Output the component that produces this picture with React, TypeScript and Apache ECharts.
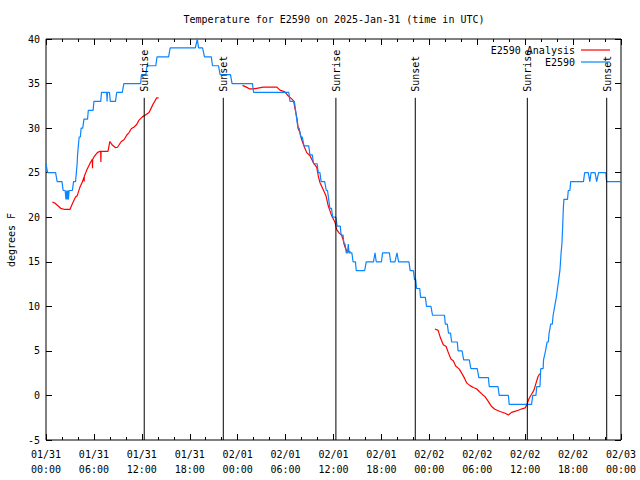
import React, { useEffect, useRef } from "react";
import * as echarts from "echarts";

// hours since 2025-01-31 00:00 UTC
const xTickHours = [0, 6, 12, 18, 24, 30, 36, 42, 48, 54, 60, 66, 72];
const yTicks = [-5, 0, 5, 10, 15, 20, 25, 30, 35, 40];

const blueObs: [number, number][] = [
  [0.0, 26], [0.2, 25], [1.2, 25], [1.4, 24], [2.0, 24], [2.15, 23], [2.4, 23], [2.5, 22], [2.6, 23], [2.65, 22],
  [2.75, 23], [2.8, 22], [2.9, 23], [3.3, 23], [3.45, 24], [3.7, 24], [3.8, 25], [3.9, 26], [3.95, 27], [4.05, 28],
  [4.15, 29], [4.3, 29], [4.4, 30], [4.6, 30], [4.75, 31], [5.2, 31], [5.3, 32], [5.9, 32], [6.0, 33], [6.85, 33],
  [6.95, 34], [7.6, 34], [7.65, 33], [7.7, 34], [7.95, 34], [8.05, 33], [8.7, 33], [8.85, 34], [9.55, 34], [9.75, 35],
  [11.85, 35], [11.95, 36], [12.5, 36], [12.65, 37], [13.75, 37], [13.9, 38], [15.35, 38], [15.55, 39], [18.7, 39],
  [18.95, 40], [19.1, 39], [19.6, 39], [19.85, 38], [20.7, 38], [20.85, 37], [21.6, 37], [21.8, 36], [23.1, 36],
  [23.3, 35], [25.85, 35], [26.0, 34], [30.4, 34], [30.55, 33], [31.1, 33], [31.25, 32], [31.4, 31], [31.55, 30],
  [31.7, 30], [31.9, 29], [32.1, 29], [32.3, 28], [32.9, 28], [33.05, 27], [33.35, 27], [33.5, 26], [33.95, 26],
  [34.1, 25], [34.3, 25], [34.45, 24], [34.9, 24], [35.1, 23], [35.25, 23], [35.4, 22], [35.55, 21], [35.75, 21],
  [35.9, 20], [36.3, 20], [36.45, 19], [36.85, 19], [36.95, 18], [37.2, 18], [37.3, 17], [37.45, 17], [37.6, 16],
  [37.75, 16], [37.85, 17], [37.95, 16], [38.3, 16], [38.45, 15], [38.75, 15], [38.85, 14], [39.9, 14], [40.1, 15],
  [41.0, 15], [41.2, 16], [41.35, 15], [42.0, 15], [42.15, 16], [43.0, 16], [43.15, 15], [43.7, 15], [43.95, 16],
  [44.15, 15], [45.45, 15], [45.6, 14], [46.0, 14], [46.15, 13], [46.3, 13], [46.4, 12], [46.8, 12], [46.9, 11],
  [47.5, 11], [47.65, 10], [48.2, 10], [48.4, 9], [49.9, 9], [50.0, 8], [50.25, 8], [50.4, 7], [50.65, 7], [50.8, 6],
  [51.5, 6], [51.6, 5], [52.1, 5], [52.3, 4], [53.0, 4], [53.2, 3], [54.0, 3], [54.2, 2], [55.4, 2], [55.5, 1],
  [56.6, 1], [56.75, 0], [57.9, 0], [58.0, -1], [60.8, -1], [60.95, 0], [61.35, 0], [61.45, 1], [61.85, 1], [61.95, 3],
  [62.25, 3], [62.3, 4], [62.55, 5], [62.75, 6], [62.9, 6], [63.0, 7], [63.2, 8], [63.4, 8], [63.5, 9], [63.7, 10],
  [63.9, 11], [64.05, 12], [64.2, 13], [64.35, 14], [64.5, 16], [64.6, 17], [64.7, 19], [64.78, 21], [64.85, 22],
  [65.3, 22], [65.4, 23], [65.6, 23], [65.7, 24], [67.3, 24], [67.45, 25], [67.9, 25], [68.1, 24], [68.25, 25],
  [68.75, 25], [68.95, 24], [69.2, 25], [70.1, 25], [70.2, 24], [72.0, 24],
];

const redPart1: [number, number][] = [
  [0.8, 21.7], [1.1, 21.6], [1.84, 21.0], [2.35, 20.87], [3.0, 20.87], [3.3, 21.5], [3.7, 22.26], [3.9, 22.4],
  [4.26, 23.4], [4.55, 23.95], [4.76, 24.5], [4.78, 24.0], [4.8, 24.6], [5.09, 25.26], [5.38, 25.8], [5.6, 26.2],
  [5.8, 26.5], [5.82, 25.5], [5.85, 26.5], [6.0, 26.76], [6.43, 27.25], [6.76, 27.4], [6.85, 27.4], [6.87, 26.2],
  [6.9, 27.4], [7.76, 27.4], [8.0, 28.5], [8.3, 28.1], [8.72, 27.8], [8.95, 27.85], [9.43, 28.5], [9.77, 28.7],
  [10.1, 29.2], [10.4, 29.5], [10.7, 29.95], [11.0, 30.1], [11.35, 30.4], [11.65, 30.9], [12.06, 31.26],
  [12.5, 31.5], [12.9, 31.75], [13.2, 32.3], [13.45, 32.76], [13.65, 33.06], [13.86, 33.4], [14.1, 33.4],
];

const redPart2: [number, number][] = [
  [24.6, 34.8], [25.1, 34.6], [25.5, 34.4], [25.96, 34.4], [27.2, 34.6], [28.9, 34.6], [29.3, 34.26], [29.9, 34.07],
  [30.35, 33.6], [30.8, 33.25], [31.0, 33.06], [31.2, 32.1], [31.4, 31.2], [31.6, 29.9], [31.8, 29.5], [32.0, 28.75],
  [32.3, 28.0], [32.65, 27.25], [33.06, 26.9], [33.5, 26.1], [33.9, 25.6], [34.1, 24.6], [34.3, 23.9], [34.7, 23.1],
  [35.06, 22.4], [35.35, 21.25], [35.8, 20.1], [36.2, 19.4], [36.4, 18.6], [36.7, 18.25], [37.0, 18.0],
  [37.2, 17.5], [37.4, 16.75], [37.65, 16.2], [38.15, 16.1],
];

const redPart3: [number, number][] = [
  [48.7, 7.45], [49.1, 7.3], [49.4, 6.44], [49.75, 5.7], [50.1, 5.5], [50.4, 4.75], [50.7, 4.1], [51.0, 3.9],
  [51.3, 3.3], [51.75, 2.95], [52.05, 2.5], [52.4, 1.94], [52.7, 1.38], [53.1, 1.1], [53.5, 0.89], [53.9, 0.75],
  [54.25, 0.44], [54.7, 0.06], [54.97, -0.13], [55.4, -0.69], [55.8, -1.25], [56.2, -1.55], [56.85, -1.8],
  [57.5, -2.0], [57.9, -2.19], [58.3, -1.9], [58.9, -1.74], [59.6, -1.5], [60.0, -1.4], [60.2, -1.06],
  [60.5, -0.31], [60.8, 0.13], [61.1, 0.6], [61.36, 1.38], [61.6, 2.1], [61.8, 2.4], [61.95, 2.4],
];

const sunHours = [12.3, 22.2, 36.3, 46.24, 60.27, 70.21];
const sunLabels = ["Sunrise", "Sunset", "Sunrise", "Sunset", "Sunrise", "Sunset"];

const titleText = "Temperature for E2590 on 2025-Jan-31 (time in UTC)";
const yAxisTitle = "degrees F";
const legendNames = ["E2590 Analysis", "E2590"];

const RED = "#ff0000";
const BLUE = "#0a84ff";
const FONT = '"DejaVu Sans Mono", "Liberation Mono", monospace';

const START = Date.UTC(2025, 0, 31, 0, 0, 0);
const pad = (n: number) => (n < 10 ? "0" + n : "" + n);
const fmtHour = (h: number) => {
  const d = new Date(START + h * 3600000);
  return `${pad(d.getUTCMonth() + 1)}/${pad(d.getUTCDate())}\n${pad(d.getUTCHours())}:${pad(d.getUTCMinutes())}`;
};

export default function App() {
  const ref = useRef<HTMLDivElement>(null);
  useEffect(() => {
    if (!ref.current) return;
    const chart = echarts.init(ref.current, null, { renderer: "svg" });
    const axisCommon = {
      type: "value" as const,
      min: 0,
      max: 72,
      interval: 6,
      splitLine: { show: false },
      axisLine: { show: false, onZero: false },
      axisTick: { show: true, inside: true, length: 6, lineStyle: { color: "#000", width: 1 } },
      minorTick: { show: true, splitNumber: 3, length: 3, lineStyle: { color: "#000", width: 1 } },
    };
    const yCommon = {
      type: "value" as const,
      min: yTicks[0],
      max: yTicks[yTicks.length - 1],
      interval: 5,
      splitLine: { show: false },
      axisLine: { show: false, onZero: false },
      axisTick: { show: true, inside: true, length: 6, lineStyle: { color: "#000", width: 1 } },
    };
    const redSeries = [redPart1, redPart2, redPart3].map((d, i) => ({
      type: "line" as const,
      name: "E2590 Analysis " + i,
      data: d,
      showSymbol: false,
      symbol: "none",
      lineStyle: { color: RED, width: 1.2 },
      z: 3,
    }));
    chart.setOption({
      animation: false,
      backgroundColor: "#fff",
      grid: { left: 46, right: 19, top: 39, bottom: 40, show: true, borderColor: "#000", borderWidth: 1, backgroundColor: "transparent" },
      xAxis: [
        {
          ...axisCommon,
          position: "bottom",
          axisLabel: {
            show: true,
            formatter: (v: number) => (xTickHours.includes(v) ? fmtHour(v) : ""),
            fontFamily: FONT,
            fontSize: 10,
            color: "#000",
            lineHeight: 15,
            margin: 7,
          },
        },
        { ...axisCommon, position: "top", axisLabel: { show: false } },
      ],
      yAxis: [
        {
          ...yCommon,
          position: "left",
          axisLabel: { show: true, fontFamily: FONT, fontSize: 10, color: "#000", margin: 6 },
        },
        { ...yCommon, position: "right", axisLabel: { show: false } },
      ],
      graphic: [
        { type: "text", x: 334, y: 19, style: { text: titleText, fontFamily: FONT, fontSize: 10, fill: "#000", align: "center", verticalAlign: "middle" } },
        { type: "text", x: 11, y: 240, rotation: Math.PI / 2, style: { text: yAxisTitle, fontFamily: FONT, fontSize: 10, fill: "#000", align: "center", verticalAlign: "middle" } },
        { type: "text", x: 575, y: 50, z: 10, style: { text: legendNames[0], fontFamily: FONT, fontSize: 10, fill: "#000", align: "right", verticalAlign: "middle" } },
        { type: "line", z: 10, shape: { x1: 581, y1: 50, x2: 610, y2: 50 }, style: { stroke: RED, lineWidth: 1.2 } },
        { type: "text", x: 575, y: 62, z: 10, style: { text: legendNames[1], fontFamily: FONT, fontSize: 10, fill: "#000", align: "right", verticalAlign: "middle" } },
        { type: "line", z: 10, shape: { x1: 581, y1: 62, x2: 610, y2: 62 }, style: { stroke: BLUE, lineWidth: 1.2 } },
      ],
      series: [
        ...redSeries,
        {
          type: "line",
          name: "E2590",
          data: blueObs,
          showSymbol: false,
          symbol: "none",
          lineStyle: { color: BLUE, width: 1.2 },
          z: 4,
        },
        {
          type: "custom",
          name: "sun",
          data: sunHours.map((h) => [h, -5]),
          encode: { x: 0, y: 1 },
          z: 5,
          renderItem: (params: any, api: any) => {
            const h = api.value(0);
            const p0 = api.coord([h, -5]);
            const p1 = api.coord([h, 33.4]);
            return {
              type: "group",
              children: [
                { type: "line", shape: { x1: p0[0], y1: p0[1], x2: p1[0], y2: p1[1] }, style: { stroke: "#000", lineWidth: 1 } },
                {
                  type: "text",
                  x: p1[0] + 0.5,
                  y: p1[1] - 6,
                  rotation: Math.PI / 2,
                  style: { text: sunLabels[params.dataIndex], fontFamily: FONT, fontSize: 10, fill: "#000", align: "left", verticalAlign: "middle" },
                },
              ],
            };
          },
        },
      ],
    });
    return () => chart.dispose();
  }, []);
  return <div ref={ref} style={{ position: "absolute", left: 0, top: 0, width: 640, height: 480, background: "#fff" }} />;
}
